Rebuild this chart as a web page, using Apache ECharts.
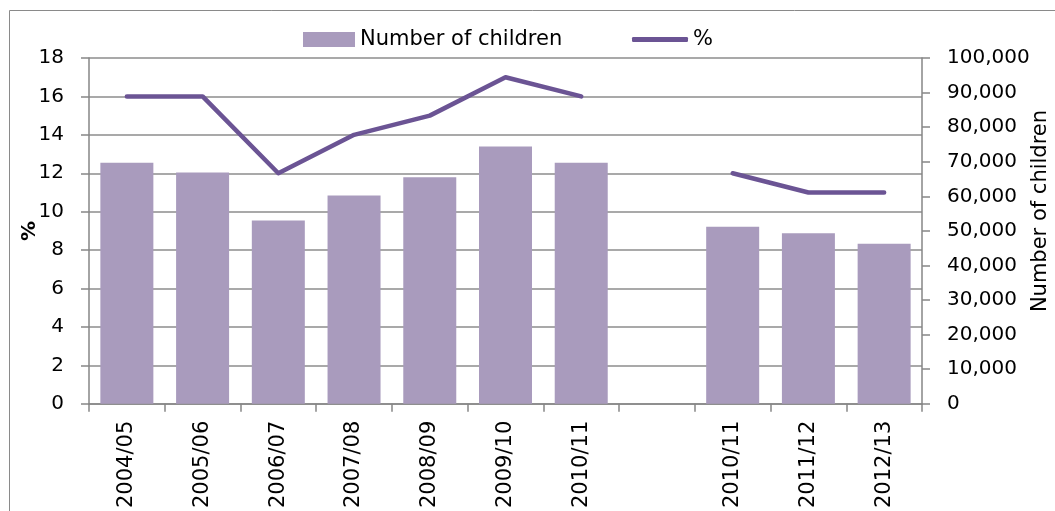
<!DOCTYPE html>
<html>
<head>
<meta charset="utf-8">
<script src="https://cdn.jsdelivr.net/npm/echarts@6/dist/echarts.min.js"></script>
<style>html,body{margin:0;padding:0;background:#fff}#c{width:1055px;height:511px}</style>
</head>
<body>
<div id="c"></div>
<script>
const categories = ['2004/05','2005/06','2006/07','2007/08','2008/09','2009/10','2010/11','','2010/11','2011/12','2012/13'];
const children = [69700, 66900, 53000, 60200, 65500, 74400, 69700, null, 51200, 49300, 46300];
const percent = [16, 16, 12, 14, 15, 17, 16, null, 12, 11, 11];
const leftTicks = {min: 0, max: 18, interval: 2};
const rightTicks = {min: 0, max: 100000, interval: 10000};

const FONT = 'DejaVu Sans';
const FS = 20;
const FS2 = 21;
const chart = echarts.init(document.getElementById('c'), null, {renderer: 'canvas'});
const axisGray = '#868686';
chart.setOption({
  animation: false,
  backgroundColor: '#fff',
  textStyle: {fontFamily: FONT, color: '#000'},
  graphic: [
    {type: 'rect', shape: {x: 9.5, y: 10.5, width: 1100, height: 600}, style: {fill: 'none', stroke: '#8a8a8a', lineWidth: 1}, z: -10},
    {type: 'text', x: 30, y: 231, rotation: Math.PI / 2, style: {text: '%', font: 'bold 20px "DejaVu Sans"', fill: '#000', align: 'center', verticalAlign: 'middle'}},
    {type: 'text', x: 1041, y: 211, rotation: Math.PI / 2, style: {text: 'Number of children', font: FS2 + 'px "DejaVu Sans"', fill: '#000', align: 'center', verticalAlign: 'middle'}}
  ],
  legend: [
    {
      top: 24, left: 298,
      itemWidth: 52, itemHeight: 15,
      textStyle: {fontFamily: FONT, fontSize: FS2, color: '#000'},
      data: [{name: 'Number of children', icon: 'rect'}]
    },
    {
      top: 24, left: 627,
      itemWidth: 56, itemHeight: 5,
      textStyle: {fontFamily: FONT, fontSize: FS2, color: '#000'},
      data: [{name: '%', icon: 'roundRect'}]
    }
  ],
  grid: {left: 89, right: 133, top: 58, bottom: 106, containLabel: false},
  xAxis: {
    type: 'category',
    data: categories,
    boundaryGap: true,
    axisLine: {lineStyle: {color: axisGray, width: 1.5}},
    axisTick: {show: true, length: 8, alignWithLabel: false, interval: 0, lineStyle: {color: axisGray, width: 1.5}},
    axisLabel: {rotate: 90, interval: 0, margin: 17, fontFamily: FONT, fontSize: FS2, color: '#000'}
  },
  yAxis: [
    {
      type: 'value', position: 'left', min: leftTicks.min, max: leftTicks.max, interval: leftTicks.interval,
      axisLine: {show: true, lineStyle: {color: axisGray, width: 1.5}},
      axisTick: {show: true, length: 8, lineStyle: {color: axisGray, width: 1.5}},
      axisLabel: {margin: 25, fontFamily: FONT, fontSize: FS, color: '#000'},
      splitLine: {show: true, lineStyle: {color: '#8c8c8c', width: 1.5}}
    },
    {
      type: 'value', position: 'right', min: rightTicks.min, max: rightTicks.max, interval: rightTicks.interval,
      axisLine: {show: true, lineStyle: {color: axisGray, width: 1.5}},
      axisTick: {show: true, length: 8, lineStyle: {color: axisGray, width: 1.5}},
      axisLabel: {margin: 25, fontFamily: FONT, fontSize: FS, color: '#000', formatter: v => v.toLocaleString('en-US')},
      splitLine: {show: false}
    }
  ],
  series: [
    {
      name: 'Number of children', type: 'bar', yAxisIndex: 1, data: children,
      barWidth: 53,
      itemStyle: {color: '#A99BBD'}
    },
    {
      name: '%', type: 'line', yAxisIndex: 0, data: percent,
      symbol: 'none', connectNulls: false,
      lineStyle: {color: '#6B5494', width: 4.5, cap: 'round', join: 'round'},
      itemStyle: {color: '#6B5494'}
    }
  ]
});
</script>
</body>
</html>
